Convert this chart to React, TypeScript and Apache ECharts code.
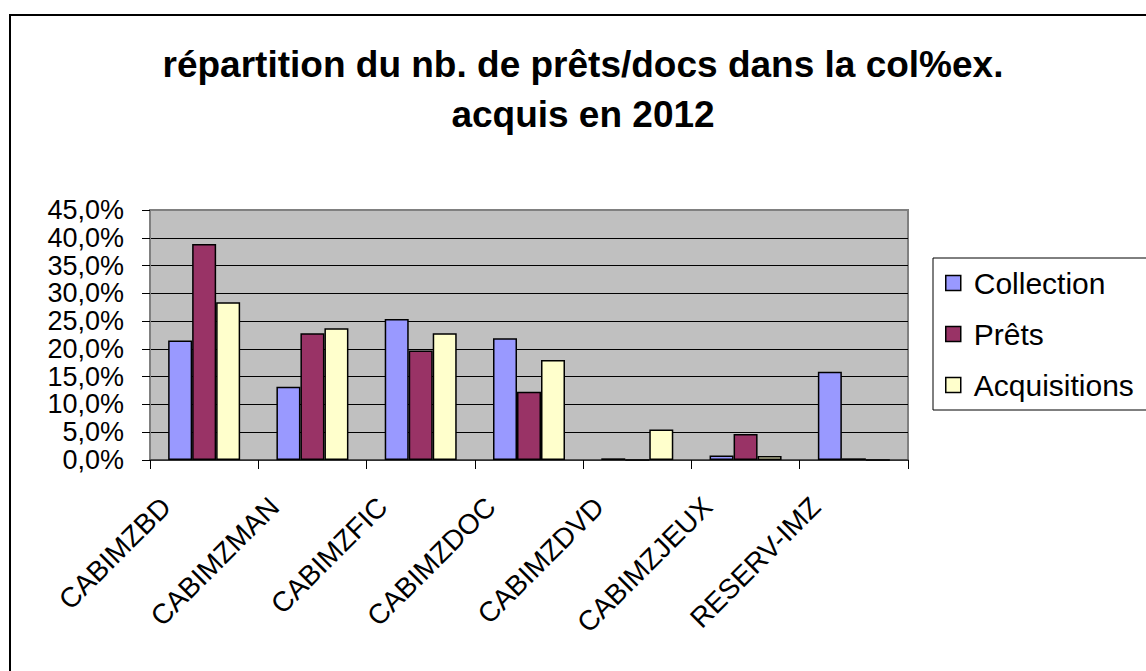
import React, { useEffect, useRef } from "react";
import * as echarts from "echarts";

const titleLines = ["répartition du nb. de prêts/docs dans la col%ex.", "acquis en 2012"];
const categories = ["CABIMZBD", "CABIMZMAN", "CABIMZFIC", "CABIMZDOC", "CABIMZDVD", "CABIMZJEUX", "RESERV-IMZ"];
const seriesNames = ["Collection", "Prêts", "Acquisitions"];
const collection = [21.5, 13.2, 25.4, 21.9, 0.3, 0.8, 15.9];
const prets = [38.9, 22.8, 19.7, 12.3, 0, 4.7, 0.3];
const acquisitions = [28.4, 23.7, 22.8, 18.0, 5.5, 0.7, 0];
const seriesColors = ["#9999FF", "#993366", "#FFFFCC"];
const yMin = 0;
const yMax = 45;
const yInterval = 5;
const yTickValues = [0, 5, 10, 15, 20, 25, 30, 35, 40, 45];

const FONT = "'Liberation Sans', Arial, sans-serif";
const fmt = (v: number) => v.toFixed(1).replace(".", ",") + "%";

export default function App() {
  const ref = useRef<HTMLDivElement>(null);
  useEffect(() => {
    if (!ref.current) return;
    const chart = echarts.init(ref.current, null, { renderer: "svg" });
    const values = [collection, prets, acquisitions];
    const splitColors = yTickValues.map((v) => (v === yMax ? "#808080" : "#000000"));
    const baseGraphics: any[] = [
      {
        id: "frame",
        type: "rect",
        shape: { x: 10, y: 15, width: 1300, height: 800 },
        style: { fill: "none", stroke: "#000", lineWidth: 2 },
        silent: true,
        z: 100,
      },
      ...titleLines.map((line, i) => ({
        id: "title" + i,
        type: "text",
        x: 583,
        y: 46 + i * 50,
        silent: true,
        style: {
          text: line,
          align: "center",
          verticalAlign: "top",
          fontFamily: FONT,
          fontWeight: "bold",
          fontSize: 37,
          fill: "#000",
        },
      })),
    ];
    chart.setOption({
      animation: false,
      backgroundColor: "#ffffff",
      textStyle: { fontFamily: FONT },
      graphic: baseGraphics,
      legend: {
        orient: "vertical",
        left: 933,
        top: 258,
        padding: [10, 24, 10, 12],
        itemGap: 21,
        itemWidth: 15,
        itemHeight: 15,
        icon: "rect",
        borderColor: "#000",
        borderWidth: 1,
        backgroundColor: "#fff",
        itemStyle: { borderColor: "#000", borderWidth: 1.5 },
        textStyle: {
          fontFamily: FONT,
          fontSize: 30,
          lineHeight: 30,
          color: "#000",
          padding: [0, 0, 0, 8],
        },
        data: seriesNames,
      },
      grid: {
        left: 150,
        top: 210,
        width: 758,
        height: 250,
        show: true,
        backgroundColor: "#C0C0C0",
        borderColor: "#808080",
        borderWidth: 2,
      },
      xAxis: {
        type: "category",
        data: categories,
        boundaryGap: true,
        axisLine: { show: true, lineStyle: { color: "#404040", width: 1.5 } },
        axisTick: { show: true, length: 9, lineStyle: { color: "#000", width: 1 } },
        axisLabel: {
          interval: 0,
          rotate: 45,
          margin: 4,
          padding: [0, 54, 0, 0],
          fontFamily: FONT,
          fontSize: 28,
          color: "#000",
        },
        splitLine: { show: false },
      },
      yAxis: {
        type: "value",
        min: yMin,
        max: yMax,
        interval: yInterval,
        axisLine: { show: true, lineStyle: { color: "#808080", width: 2 } },
        axisTick: { show: true, length: 8, lineStyle: { color: "#000", width: 1 } },
        axisLabel: { show: false },
        splitLine: { show: true, lineStyle: { color: splitColors, width: 1 } },
      },
      series: seriesNames.map((name, i) => ({
        name,
        type: "bar",
        data: values[i],
        barWidth: 24,
        barGap: "0%",
        itemStyle: { color: seriesColors[i], borderColor: "#000", borderWidth: 1.5 },
      })),
    });
    const xLeft = chart.convertToPixel({ xAxisIndex: 0 }, categories[0]) as number;
    const axisX = xLeft - 758 / categories.length / 2;
    const labelGraphics = yTickValues.map((v, i) => ({
      id: "ylab" + i,
      type: "text",
      x: axisX - 26,
      y: chart.convertToPixel({ yAxisIndex: 0 }, v) as number,
      silent: true,
      style: {
        text: fmt(v),
        align: "right",
        verticalAlign: "middle",
        fontFamily: FONT,
        fontSize: 27,
        fill: "#000",
      },
    }));
    chart.setOption({ graphic: [...baseGraphics, ...labelGraphics] });
    return () => chart.dispose();
  }, []);
  return (
    <div
      ref={ref}
      style={{ position: "fixed", left: 0, top: 0, width: 1146, height: 671 }}
    />
  );
}
